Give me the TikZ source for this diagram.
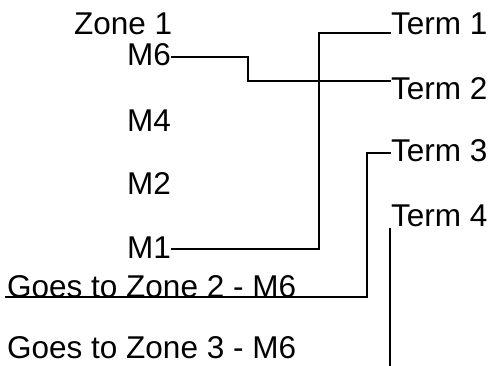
\documentclass[tikz,border=0pt]{standalone}
\usepackage{fontspec}
\setmainfont{Liberation Sans}
\tikzset{
    lbl/.style={inner sep=0pt, anchor=base west, font=\fontsize{31.5}{36}\selectfont},
    wire/.style={black, line width=2pt}
}
\begin{document}
\begin{tikzpicture}[x=1pt, y=-1pt]
        \useasboundingbox (0,0) rectangle (493,366);

        \node[lbl] (zone) at (74,35) {Zone 1};
        \node[lbl] (m6) at (127,66) {M6};
        \node[lbl] (m4) at (127,132) {M4};
        \node[lbl] (m2) at (127,195) {M2};
        \node[lbl] (m1) at (127,259) {M1};
        \node[lbl] (t1) at (391,35) {Term 1};
        \node[lbl] (t2) at (391,100) {Term 2};
        \node[lbl] (t3) at (391,162) {Term 3};
        \node[lbl] (t4) at (391,227) {Term 4};
        \node[lbl] (g2) at (7,298) {Goes to Zone 2 - M6};
        \node[lbl] (g3) at (7,358) {Goes to Zone 3 - M6};

        \coordinate (j1) at (319,33);
        \coordinate (j2) at (248,81);
        \coordinate (j3) at (367,153);
        \coordinate (s3) at (5,297);
        \coordinate (e4) at (390,366);

        \draw[wire] ([yshift=-2pt]m6.east) -| (j2) -- (j2 -| t2.west);
        \draw[wire] ([yshift=-1pt]m1.east) -| (j1) -- (j1 -| t1.west);
        \draw[wire] (s3) -| (j3) -- (j3 -| t3.west);
        \draw[wire] (e4 |- t4.south) -- (e4);
    \end{tikzpicture}
\end{document}
